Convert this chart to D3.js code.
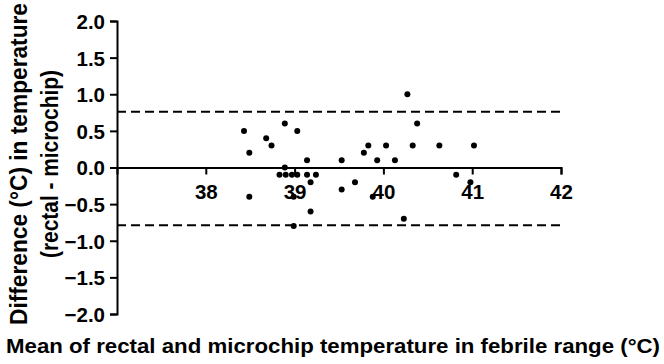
<!DOCTYPE html>
<html>
<head>
<meta charset="utf-8">
<script src="https://cdn.jsdelivr.net/npm/d3@7"></script>
<style>
  body { margin: 0; background: #fff; }
  text { font-family: "Liberation Sans", Arial, sans-serif; font-weight: bold; fill: #000; }
</style>
</head>
<body>
<svg width="664" height="364"></svg>
<script>
// mean of rectal and microchip temperature (x) and their difference (y)
const meanTemp = [38.43, 38.49, 38.49, 38.68, 38.74, 38.89, 39.03, 38.89, 38.83, 38.90,
                  38.97, 39.03, 39.14, 39.24, 39.18, 39.14, 38.99, 39.18, 38.99, 39.53,
                  39.53, 39.68, 40.27, 40.38, 39.83, 39.78, 40.03, 40.33, 40.63, 41.02,
                  39.93, 40.13, 40.82, 40.98, 39.88, 40.23];
const diffTemp = [0.50, 0.20, -0.40, 0.40, 0.30, 0.60, 0.50, 0.00, -0.10, -0.10,
                  -0.10, -0.10, -0.10, -0.10, -0.20, 0.10, -0.40, -0.60, -0.80, 0.10,
                  -0.30, -0.20, 1.00, 0.60, 0.30, 0.20, 0.30, 0.30, 0.30, 0.30,
                  0.10, 0.10, -0.10, -0.20, -0.40, -0.70];
const limits = [0.76, -0.79];
const xTicks = [38, 39, 40, 41, 42];
const yTicks = [2.0, 1.5, 1.0, 0.5, 0.0, -0.5, -1.0, -1.5, -2.0];

const svg = d3.select("svg");
const x = d3.scaleLinear().domain([37, 42]).range([117, 561]);
const y = d3.scaleLinear().domain([-2, 2]).range([314, 21]);

// y axis
const yAxis = svg.append("g")
    .attr("transform", "translate(117,0)")
    .call(d3.axisLeft(y).tickValues(yTicks).tickFormat(d3.format(".1f")).tickSizeOuter(0).tickSize(7).tickPadding(5));
yAxis.select(".domain").attr("stroke-width", 2);
yAxis.selectAll(".tick line").attr("stroke-width", 2);
yAxis.selectAll("text").attr("font-size", 20.5).attr("font-family", null).attr("dy", "0.36em");

// x axis along zero
const xAxis = svg.append("g")
    .attr("transform", "translate(0," + y(0) + ")")
    .call(d3.axisBottom(x).tickValues(xTicks).tickFormat(d3.format("d")).tickSizeOuter(0).tickSize(7).tickPadding(10));
xAxis.select(".domain").attr("stroke-width", 2);
xAxis.selectAll(".tick line").attr("stroke-width", 2);
xAxis.selectAll("text").attr("font-size", 20.5).attr("font-family", null);

// limits of agreement
svg.selectAll(".limit")
    .data(limits)
    .enter().append("line")
    .attr("class", "limit")
    .attr("x1", x(37)).attr("x2", x(42))
    .attr("y1", d => y(d)).attr("y2", d => y(d))
    .attr("stroke", "#000")
    .attr("stroke-width", 2)
    .attr("stroke-dasharray", "9,5");

// points
svg.selectAll(".dot")
    .data(meanTemp.map((m, i) => [m, diffTemp[i]]))
    .enter().append("circle")
    .attr("class", "dot")
    .attr("cx", d => x(d[0]))
    .attr("cy", d => y(d[1]))
    .attr("r", 3)
    .attr("fill", "#000");

// titles
const yt = svg.append("text")
    .attr("transform", "translate(27,164) rotate(-90)")
    .attr("text-anchor", "middle")
    .attr("font-size", 23);
yt.append("tspan").attr("x", 0).attr("y", 0)
    .attr("textLength", 322).attr("lengthAdjust", "spacingAndGlyphs")
    .text("Difference (°C) in temperature");
yt.append("tspan").attr("x", 0).attr("y", 31)
    .attr("textLength", 188).attr("lengthAdjust", "spacingAndGlyphs")
    .text("(rectal - microchip)");

svg.append("text")
    .attr("x", 333)
    .attr("y", 353)
    .attr("text-anchor", "middle")
    .attr("font-size", 21)
    .attr("textLength", 654)
    .attr("lengthAdjust", "spacingAndGlyphs")
    .text("Mean of rectal and microchip temperature in febrile range (°C)");
</script>
</body>
</html>
